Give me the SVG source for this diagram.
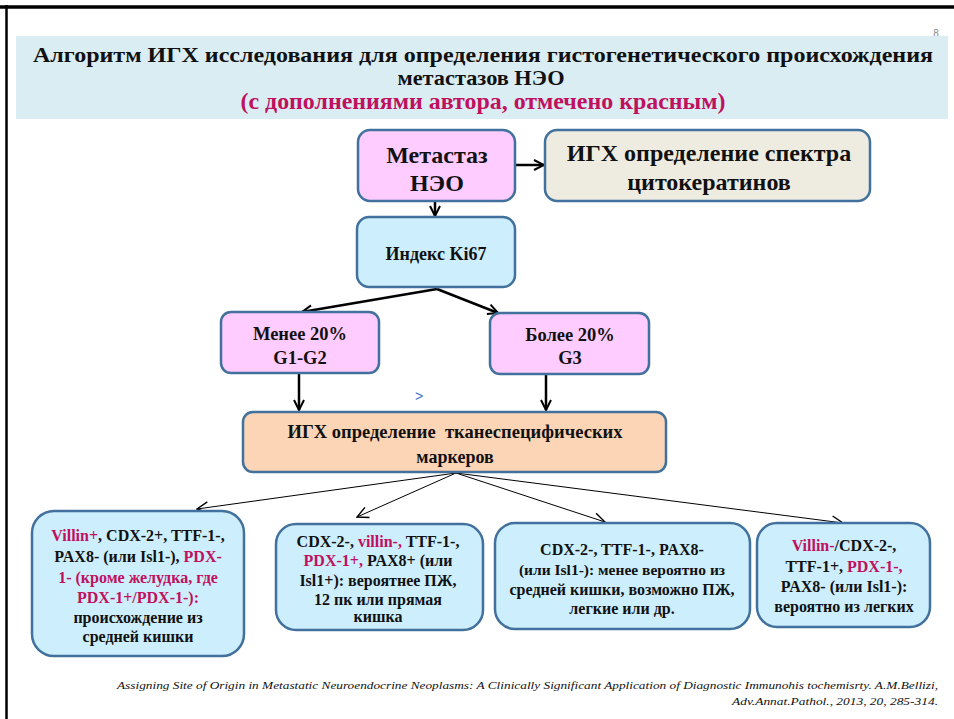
<svg xmlns="http://www.w3.org/2000/svg" width="954" height="719" viewBox="0 0 954 719">
<style>
  .t { font-family: 'Liberation Serif', 'Times New Roman', serif; font-weight: bold; fill: #111; text-anchor: middle; }
  .r { fill: #c0105e; }
  .box { stroke: #41719c; stroke-width: 2.5; }
  .pink { fill: #ffccff; }
  .blue { fill: #cdeefd; }
  .beige { fill: #eeece1; }
  .peach { fill: #fbd5b5; }
  .thick { stroke: #000; stroke-width: 2.5; fill: none; }
  .thin { stroke: #000; stroke-width: 1; fill: none; }
  .cite { font-family: 'Liberation Serif', 'Times New Roman', serif; font-style: italic; font-size: 11px; fill: #111; text-anchor: end; }
</style>
<defs>
  <marker id="ah" viewBox="0 0 10 10" refX="9" refY="5" markerWidth="5" markerHeight="5" orient="auto" markerUnits="strokeWidth">
    <path d="M1,1 L9,5 L1,9" fill="none" stroke="#000" stroke-width="1.6"/>
  </marker>
  <marker id="ahs" viewBox="0 0 10 10" refX="9" refY="5" markerWidth="14" markerHeight="14" orient="auto" markerUnits="userSpaceOnUse">
    <path d="M1,1 L9,5 L1,9" fill="none" stroke="#000" stroke-width="1"/>
  </marker>
</defs>
<rect x="0" y="0" width="954" height="719" fill="#fff"/>
<line x1="0" y1="7" x2="954" y2="7" stroke="#000" stroke-width="3.5"/>
<line x1="6.5" y1="5" x2="6.5" y2="719" stroke="#000" stroke-width="2.5"/>
<text x="936" y="37" font-family="Liberation Sans, sans-serif" font-size="10" fill="#888" text-anchor="middle">8</text>

<g id="title">
  <rect x="16" y="36" width="932" height="83" fill="#daedf3"/>
  <text class="t" x="483" y="62" font-size="22" textLength="900" lengthAdjust="spacingAndGlyphs">Алгоритм ИГХ исследования для определения гистогенетического происхождения</text>
  <text class="t" x="481" y="85" font-size="22" textLength="167" lengthAdjust="spacingAndGlyphs">метастазов НЭО</text>
  <text class="t r" x="483" y="109" font-size="23" textLength="485" lengthAdjust="spacingAndGlyphs">(с дополнениями автора, отмечено красным)</text>
</g>

<g id="connectors">
  <line class="thick" x1="515" y1="165" x2="544" y2="165" marker-end="url(#ah)"/>
  <line class="thick" x1="435" y1="201" x2="435" y2="216" marker-end="url(#ah)"/>
  <line class="thick" x1="437" y1="289" x2="302" y2="312" marker-end="url(#ah)"/>
  <line class="thick" x1="437" y1="289" x2="498" y2="313" marker-end="url(#ah)"/>
  <line class="thick" x1="299" y1="373" x2="299" y2="410" marker-end="url(#ah)"/>
  <line class="thick" x1="546" y1="374" x2="546" y2="410" marker-end="url(#ah)"/>
  <line class="thin" x1="456" y1="473" x2="197" y2="509" marker-end="url(#ahs)"/>
  <line class="thin" x1="456" y1="473" x2="357" y2="517" marker-end="url(#ahs)"/>
  <line class="thin" x1="456" y1="473" x2="605" y2="522" marker-end="url(#ahs)"/>
  <line class="thin" x1="456" y1="473" x2="843" y2="523" marker-end="url(#ahs)"/>
</g>

<g id="metastaz">
  <rect class="box pink" x="358" y="130" width="157" height="71" rx="12"/>
  <text class="t" x="437" y="163" font-size="24">Метастаз</text>
  <text class="t" x="437" y="191" font-size="24">НЭО</text>
</g>

<g id="cytokeratin">
  <rect class="box beige" x="545" y="130" width="325" height="71" rx="12"/>
  <text class="t" x="709" y="161" font-size="24">ИГХ определение спектра</text>
  <text class="t" x="709" y="190" font-size="24">цитокератинов</text>
</g>

<g id="ki67">
  <rect class="box blue" x="357" y="217" width="158" height="70" rx="12"/>
  <text class="t" x="436" y="260" font-size="18">Индекс Ki67</text>
</g>

<g id="less20">
  <rect class="box pink" x="221" y="312" width="158" height="61" rx="10"/>
  <text class="t" x="300" y="340" font-size="18.5">Менее 20%</text>
  <text class="t" x="300" y="364" font-size="18.5">G1-G2</text>
</g>

<g id="more20">
  <rect class="box pink" x="490" y="313" width="159" height="61" rx="10"/>
  <text class="t" x="570" y="341" font-size="18.5">Более 20%</text>
  <text class="t" x="570" y="364" font-size="18.5">G3</text>
</g>

<text x="419" y="401" font-family="Liberation Sans, sans-serif" font-size="14" fill="#4472c4" text-anchor="middle">&gt;</text>

<g id="tissue">
  <rect class="box peach" x="243" y="412" width="423" height="60" rx="10"/>
  <text class="t" x="455" y="438" font-size="18" style="white-space:pre" xml:space="preserve" textLength="335" lengthAdjust="spacingAndGlyphs">ИГХ определение  тканеспецифических</text>
  <text class="t" x="455" y="463" font-size="18">маркеров</text>
</g>

<g id="midgut">
  <rect class="box blue" x="32" y="511" width="212" height="145" rx="22"/>
  <text class="t" x="138" y="541" font-size="16"><tspan class="r">Villin+</tspan>, CDX-2+, TTF-1-,</text>
  <text class="t" x="138" y="562" font-size="16">PAX8- (или Isl1-), <tspan class="r">PDX-</tspan></text>
  <text class="t r" x="138" y="583" font-size="16">1- (кроме желудка, где</text>
  <text class="t r" x="138" y="603" font-size="16">PDX-1+/PDX-1-):</text>
  <text class="t" x="138" y="623" font-size="16">происхождение из</text>
  <text class="t" x="138" y="642" font-size="16">средней кишки</text>
</g>

<g id="pancreas">
  <rect class="box blue" x="276" y="524" width="207" height="106" rx="20"/>
  <text class="t" x="378" y="547" font-size="16">CDX-2-, <tspan class="r">villin-,</tspan> TTF-1-,</text>
  <text class="t" x="378" y="566" font-size="16"><tspan class="r">PDX-1+,</tspan> PAX8+ (или</text>
  <text class="t" x="378" y="586" font-size="16">Isl1+): вероятнее ПЖ,</text>
  <text class="t" x="378" y="605" font-size="16">12 пк или прямая</text>
  <text class="t" x="378" y="622" font-size="16">кишка</text>
</g>

<g id="other">
  <rect class="box blue" x="495" y="523" width="255" height="106" rx="20"/>
  <text class="t" x="622" y="555" font-size="16">CDX-2-, TTF-1-, PAX8-</text>
  <text class="t" x="622" y="575" font-size="15.5">(или Isl1-): менее вероятно из</text>
  <text class="t" x="622" y="595" font-size="16">средней кишки, возможно ПЖ,</text>
  <text class="t" x="622" y="614" font-size="16">легкие или др.</text>
</g>

<g id="lung">
  <rect class="box blue" x="757" y="523" width="173" height="104" rx="20"/>
  <text class="t" x="844" y="551" font-size="16"><tspan class="r">Villin-</tspan>/CDX-2-,</text>
  <text class="t" x="844" y="572" font-size="16">TTF-1+, <tspan class="r">PDX-1-,</tspan></text>
  <text class="t" x="844" y="592" font-size="16">PAX8- (или Isl1-):</text>
  <text class="t" x="844" y="612" font-size="16">вероятно из легких</text>
</g>

<g id="citation">
  <text class="cite" x="938" y="689" textLength="821" lengthAdjust="spacingAndGlyphs">Assigning Site of Origin in Metastatic Neuroendocrine Neoplasms: A Clinically Significant Application of Diagnostic Immunohis tochemisrty. A.M.Bellizi,</text>
  <text class="cite" x="938" y="705" textLength="206" lengthAdjust="spacingAndGlyphs">Adv.Annat.Pathol., 2013, 20, 285-314.</text>
</g>
</svg>
